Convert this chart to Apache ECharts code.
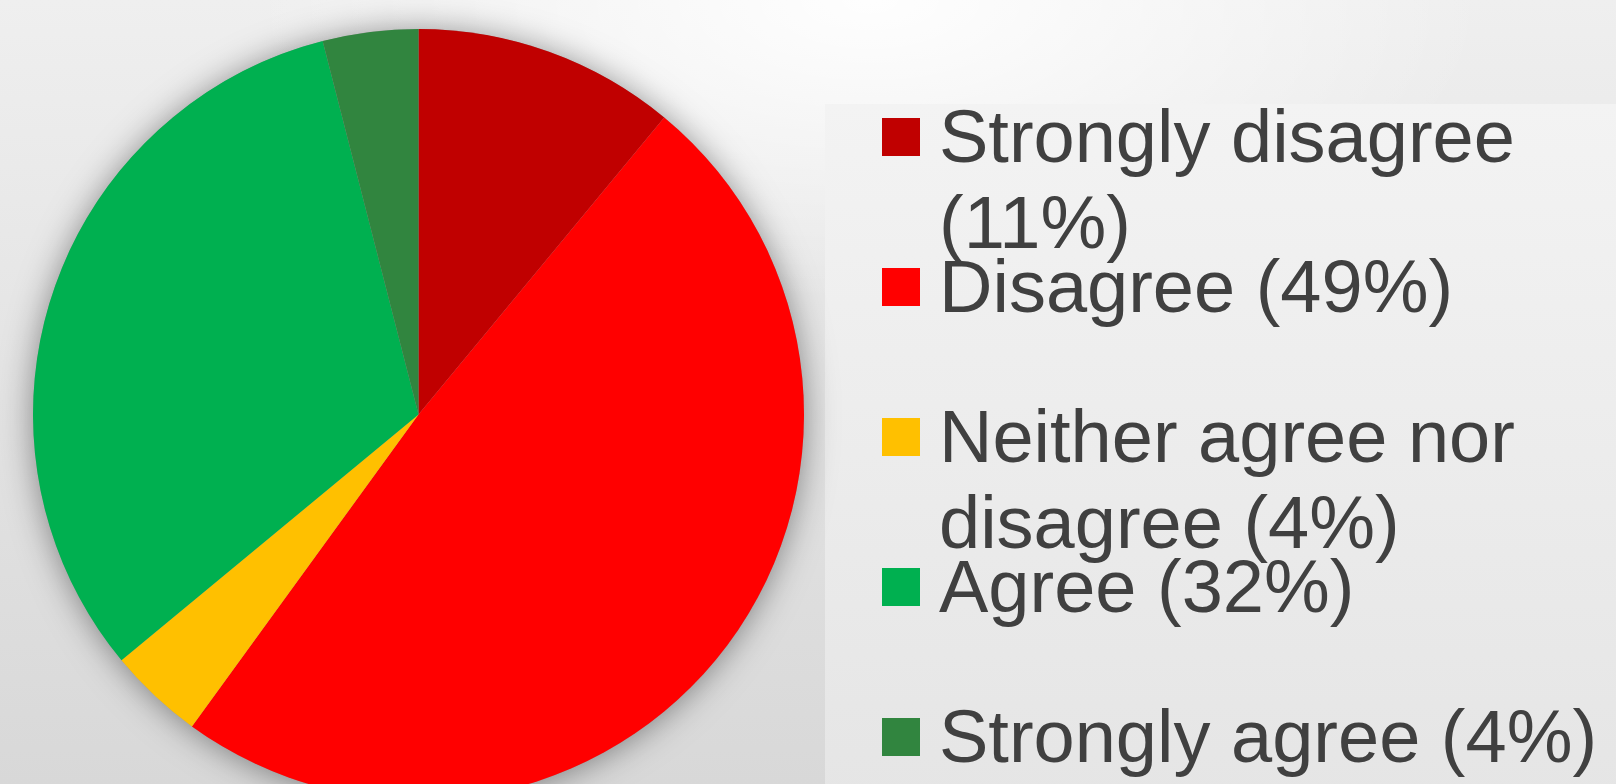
<!DOCTYPE html>
<html>
<head>
<meta charset="utf-8">
<title>Survey responses</title>
<script src="https://cdn.jsdelivr.net/npm/echarts@6/dist/echarts.min.js"></script>
<style>
  html, body { margin: 0; padding: 0; width: 1616px; height: 784px; overflow: hidden; }
  #chart {
    width: 1616px; height: 784px;
    background:
      radial-gradient(ellipse 620px 300px at 870px 0px, rgba(255,255,255,0.95) 0%, rgba(255,255,255,0) 100%),
      linear-gradient(180deg, #efefef 0%, #e2e2e2 55%, #d8d8d8 100%);
  }
</style>
</head>
<body>
<div id="chart"></div>
<script>
// Response categories and their share of answers (percent)
const categories = [
  'Strongly disagree',
  'Disagree',
  'Neither agree nor disagree',
  'Agree',
  'Strongly agree'
];
const shares = [11, 49, 4, 32, 4];
const sliceColors = ['#C00000', '#FF0000', '#FFC000', '#00B050', '#31853F'];

// Legend text, wrapped the way it is set on the slide
const legendLabels = [
  'Strongly disagree\n(11%)',
  'Disagree (49%)',
  'Neither agree nor\ndisagree (4%)',
  'Agree (32%)',
  'Strongly agree (4%)'
];

const LINE = 86;          // legend line height
const LEAD = 96;          // height of the spacer line above each entry
const PITCH = 150;        // distance between legend swatches
const total = shares.reduce((a, b) => a + b, 0);

// Every legend entry is laid out as three lines: a spacer, then the text,
// padded with an empty line when it fits on one. All entries share a height,
// and the first text line sits level with the swatch.
function legendText(label) {
  const lines = label.split('\n');
  while (lines.length < 2) lines.push('');
  return ['{lead|}', ...lines.map(l => '{t|' + l + '}')].join('\n');
}

const entryHeight = LEAD + 2 * LINE;
const firstSwatchCenter = 137;

const chart = echarts.init(document.getElementById('chart'), null, { renderer: 'canvas' });

const font = '"Liberation Sans", Arial, sans-serif';

chart.setOption({
  animation: false,
  backgroundColor: 'transparent',
  graphic: [{
    type: 'rect',
    silent: true,
    z: -10,
    shape: { x: 825, y: 104, width: 800, height: 700 },
    style: {
      fill: new echarts.graphic.LinearGradient(0, 0, 0, 1, [
        { offset: 0, color: '#f3f3f3' },
        { offset: 1, color: '#e5e5e5' }
      ])
    }
  }],
  legend: {
    orient: 'vertical',
    left: 882,
    top: firstSwatchCenter - entryHeight / 2,
    height: 1000,
    padding: 0,
    itemGap: PITCH - entryHeight,
    itemWidth: 38,
    itemHeight: 38,
    icon: 'rect',
    selectedMode: false,
    data: categories,
    formatter: name => legendText(legendLabels[categories.indexOf(name)]),
    textStyle: {
      fontFamily: font,
      fontSize: 74,
      lineHeight: LINE,
      color: '#404040',
      padding: [0, 0, 0, 14],
      rich: {
        lead: { fontFamily: font, fontSize: 74, lineHeight: LEAD },
        t: { fontFamily: font, fontSize: 74, lineHeight: LINE, color: '#404040' }
      }
    }
  },
  series: [
    {
      // soft drop shadow beneath the pie
      type: 'pie',
      name: 'backdrop',
      silent: true,
      z: 1,
      center: [418.5, 414.5],
      radius: 385.5,
      label: { show: false },
      labelLine: { show: false },
      emphasis: { disabled: true },
      itemStyle: {
        color: '#9a9a9a',
        shadowBlur: 32,
        shadowColor: 'rgba(0,0,0,0.42)',
        shadowOffsetX: 0,
        shadowOffsetY: 2
      },
      data: [{ name: 'all', value: total }]
    },
    {
      type: 'pie',
      name: 'Responses',
      z: 2,
      center: [418.5, 414.5],
      radius: 385.5,
      startAngle: 90,
      clockwise: true,
      avoidLabelOverlap: false,
      label: { show: false },
      labelLine: { show: false },
      emphasis: { disabled: true },
      itemStyle: { borderWidth: 0 },
      data: categories.map((name, i) => ({
        name,
        value: shares[i],
        itemStyle: { color: sliceColors[i] }
      }))
    }
  ]
});
</script>
</body>
</html>
